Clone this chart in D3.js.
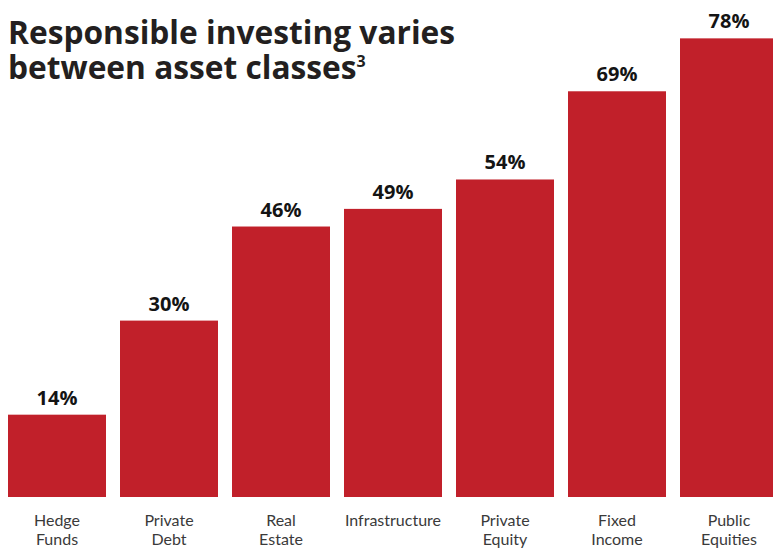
<!DOCTYPE html>
<html>
<head>
<meta charset="utf-8">
<script src="https://cdn.jsdelivr.net/npm/d3@7"></script>
<style>
  html, body { margin: 0; padding: 0; background: #fff; }
  svg { display: block; }
</style>
</head>
<body>
<svg id="chart" width="773" height="549"></svg>
<script>
// Share of respondents applying responsible investing, by asset class
const categories = [
  ["Hedge", "Funds"],
  ["Private", "Debt"],
  ["Real", "Estate"],
  ["Infrastructure"],
  ["Private", "Equity"],
  ["Fixed", "Income"],
  ["Public", "Equities"]
];
const values = [14, 30, 46, 49, 54, 69, 78];
const titleLines = ["Responsible investing varies", "between asset classes"];

const W = 773, H = 549;
const svg = d3.select("#chart");
const barColor = "#c1202a";
const font = "'Open Sans', 'Noto Sans', sans-serif";
const labelFont = "Lato, 'Open Sans', sans-serif";

const x = d3.scaleBand()
  .domain(d3.range(values.length))
  .range([1, 785])
  .paddingInner(0.125)
  .paddingOuter(0.0625);

const y = d3.scaleLinear().domain([0, 100]).range([497, -91]);

// Bars
svg.append("g").selectAll("rect")
  .data(values)
  .join("rect")
  .attr("x", (d, i) => x(i))
  .attr("width", x.bandwidth())
  .attr("y", d => y(d))
  .attr("height", d => y(0) - y(d))
  .attr("fill", barColor);

// Value labels above bars
svg.append("g").selectAll("text")
  .data(values)
  .join("text")
  .attr("x", (d, i) => x(i) + x.bandwidth() / 2)
  .attr("y", d => y(d) - 10)
  .attr("text-anchor", "middle")
  .attr("font-family", font)
  .attr("font-weight", 700)
  .attr("font-size", 20)
  .attr("fill", "#141414")
  .text(d => d + "%");

// Category labels under bars
const cat = svg.append("g").selectAll("text")
  .data(categories)
  .join("text")
  .attr("x", (d, i) => x(i) + x.bandwidth() / 2)
  .attr("y", 526)
  .attr("text-anchor", "middle")
  .attr("font-family", labelFont)
  .attr("font-size", 16)
  .attr("fill", "#3a3a3a");
cat.selectAll("tspan")
  .data(d => d)
  .join("tspan")
  .attr("x", function () { return this.parentNode.getAttribute("x"); })
  .attr("dy", (d, j) => j === 0 ? 0 : 19)
  .text(d => d);

// Title: two lines in one text element, footnote marker raised
const title = svg.append("text")
  .attr("x", 8)
  .attr("y", 44)
  .attr("font-family", font)
  .attr("font-weight", 700)
  .attr("font-size", 31.7)
  .attr("fill", "#231f20");
title.append("tspan").attr("x", 8).text(titleLines[0]);
title.append("tspan").attr("x", 8).attr("dy", 35).text(titleLines[1]);
title.append("tspan").attr("font-size", 16).attr("dy", -12).text("3");
</script>
</body>
</html>
